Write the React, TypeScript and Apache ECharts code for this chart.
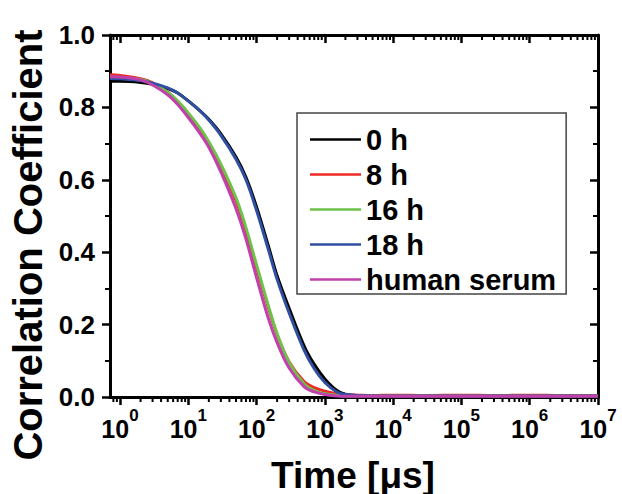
import React, { useEffect, useRef } from 'react';
import * as echarts from 'echarts';

// Lag time (µs) sampled along the log axis
const timeUs = [0.714, 1, 2, 3, 5, 7, 10, 15, 20, 30, 50, 70, 100, 150, 200, 300, 500, 700, 1000, 1500, 2000, 3000, 5000, 1e4, 3e4, 1e5, 3e5, 1e6, 3e6, 1e7];

const seriesNames = ['0 h', '8 h', '16 h', '18 h', 'human serum'];

const corr0h = [0.872, 0.872, 0.869, 0.864, 0.852, 0.84, 0.818, 0.79, 0.767, 0.727, 0.663, 0.607, 0.525, 0.415, 0.335, 0.245, 0.14, 0.09, 0.05, 0.018, 0.008, 0.004, 0.003, 0.003, 0.003, 0.003, 0.003, 0.003, 0.003, 0.003];
const corr8h = [0.89, 0.888, 0.879, 0.868, 0.842, 0.816, 0.782, 0.738, 0.7, 0.637, 0.542, 0.46, 0.357, 0.245, 0.172, 0.097, 0.042, 0.026, 0.016, 0.009, 0.006, 0.005, 0.004, 0.005, 0.004, 0.005, 0.004, 0.005, 0.004, 0.004];
const corr16h = [0.884, 0.883, 0.877, 0.866, 0.842, 0.818, 0.785, 0.742, 0.705, 0.643, 0.55, 0.468, 0.365, 0.25, 0.175, 0.095, 0.036, 0.018, 0.009, 0.005, 0.003, 0.003, 0.003, 0.003, 0.003, 0.003, 0.003, 0.003, 0.003, 0.003];
const corr18h = [0.88, 0.879, 0.874, 0.867, 0.854, 0.84, 0.818, 0.79, 0.765, 0.723, 0.657, 0.6, 0.515, 0.405, 0.325, 0.232, 0.128, 0.078, 0.04, 0.014, 0.007, 0.004, 0.003, 0.003, 0.003, 0.003, 0.003, 0.003, 0.003, 0.003];
const corrSerum = [0.885, 0.884, 0.876, 0.862, 0.835, 0.808, 0.772, 0.727, 0.69, 0.622, 0.52, 0.436, 0.33, 0.215, 0.15, 0.08, 0.028, 0.014, 0.007, 0.003, 0.002, 0.002, 0.002, 0.002, 0.002, 0.002, 0.002, 0.002, 0.002, 0.002];

const seriesValues = [corr0h, corr8h, corr16h, corr18h, corrSerum];
const colors = ['#000000', '#ee2a24', '#6cc24a', '#2f4fa2', '#c23fae'];

const xMin = 0.714;
const xMax = 1e7;
const yTickLabels = ['0.0', '0.2', '0.4', '0.6', '0.8', '1.0'];

const FONT = "'Liberation Sans', Arial, Helvetica, sans-serif";

// minor log ticks (2..9 in each decade)
const minorLogTicks: number[][] = [];
for (let n = -1; n <= 6; n++) {
  for (let k = 2; k <= 9; k++) {
    const v = k * Math.pow(10, n);
    if (v >= xMin && v <= xMax) minorLogTicks.push([v, 0]);
  }
}

export default function App() {
  const ref = useRef<HTMLDivElement>(null);
  useEffect(() => {
    const chart = echarts.init(ref.current!, null, { renderer: 'svg' });
    const axisLineStyle = { color: '#000', width: 3 };
    const xCommon = {
      type: 'log',
      logBase: 10,
      min: xMin,
      max: xMax,
      splitNumber: 7,
      splitLine: { show: false },
      axisLine: { show: true, onZero: false, lineStyle: axisLineStyle },
    };
    const option: any = {
      animation: false,
      backgroundColor: '#fff',
      grid: { left: 110, right: 24, top: 35, bottom: 97, containLabel: false },
      legend: {
        data: seriesNames.map((name) => ({ name, icon: 'rect' })),
        orient: 'vertical',
        left: 297,
        top: 113,
        padding: [12, 10, 0, 13],
        itemGap: 6,
        itemWidth: 51,
        itemHeight: 2.5,
        borderColor: '#444',
        borderWidth: 1.5,
        backgroundColor: '#fff',
        textStyle: { fontSize: 29, fontWeight: 'bold', color: '#000', fontFamily: FONT, lineHeight: 29 },
      },
      xAxis: [
        {
          ...xCommon,
          position: 'bottom',
          axisTick: { show: true, length: 8, lineStyle: { color: '#000', width: 2.5 } },
          axisLabel: {
            show: true,
            showMinLabel: false,
            margin: 10,
            formatter: (v: number) => `{b|10}{s|${Math.round(Math.log10(v))}}`,
            rich: {
              b: { fontSize: 25, fontWeight: 'bold', fontFamily: FONT, color: '#000', lineHeight: 34, verticalAlign: 'bottom' },
              s: { fontSize: 17, fontWeight: 'bold', fontFamily: FONT, color: '#000', lineHeight: 14, verticalAlign: 'top' },
            },
          },
        },
        {
          ...xCommon,
          position: 'top',
          axisTick: { show: true, inside: true, length: 8, lineStyle: { color: '#000', width: 2.5 } },
          axisLabel: { show: false },
        },
      ],
      yAxis: [
        {
          type: 'value',
          min: 0,
          max: 1,
          interval: 0.2,
          position: 'left',
          splitLine: { show: false },
          axisLine: { show: true, onZero: false, lineStyle: axisLineStyle },
          axisTick: { show: true, length: 8, lineStyle: { color: '#000', width: 2.5 } },
          minorTick: { show: true, splitNumber: 2, length: 5, lineStyle: { color: '#000', width: 2 } },
          axisLabel: {
            margin: 15,
            formatter: (v: number) => yTickLabels[Math.round(v * 5)],
            fontSize: 26,
            fontWeight: 'bold',
            fontFamily: FONT,
            color: '#000',
          },
        },
        {
          type: 'value',
          min: 0,
          max: 1,
          interval: 0.2,
          position: 'right',
          splitLine: { show: false },
          axisLine: { show: true, onZero: false, lineStyle: axisLineStyle },
          axisTick: { show: true, inside: true, length: 8, lineStyle: { color: '#000', width: 2.5 } },
          minorTick: { show: true, splitNumber: 2, length: 5, lineStyle: { color: '#000', width: 2 } },
          axisLabel: { show: false },
        },
      ],
      graphic: [
        {
          type: 'text',
          x: 28,
          y: 245,
          rotation: Math.PI / 2,
          style: {
            text: 'Correlation Coefficient',
            font: `bold 40px ${FONT}`,
            fill: '#000',
            textAlign: 'center',
            textVerticalAlign: 'middle',
          },
        },
        {
          type: 'text',
          x: 353,
          y: 475,
          style: {
            text: 'Time [μs]',
            font: `bold 37px ${FONT}`,
            fill: '#000',
            textAlign: 'center',
            textVerticalAlign: 'middle',
          },
        },
      ],
      series: [
        ...seriesNames.map((name, i) => ({
          name,
          type: 'line',
          xAxisIndex: 0,
          yAxisIndex: 0,
          data: timeUs.map((t, j) => [t, seriesValues[i][j]]),
          smooth: 0.35,
          symbol: 'none',
          showSymbol: false,
          color: colors[i],
          lineStyle: { color: colors[i], width: 3 },
          z: 3,
        })),
        {
          type: 'custom',
          name: 'minorTicks',
          xAxisIndex: 0,
          yAxisIndex: 0,
          clip: false,
          silent: true,
          data: minorLogTicks,
          renderItem: (params: any, api: any) => {
            const t = api.value(0);
            const b = api.coord([t, 0]);
            const tp = api.coord([t, 1]);
            return {
              type: 'group',
              children: [
                { type: 'line', shape: { x1: b[0], y1: b[1], x2: b[0], y2: b[1] + 5 }, style: { stroke: '#000', lineWidth: 2 } },
                { type: 'line', shape: { x1: tp[0], y1: tp[1], x2: tp[0], y2: tp[1] + 5 }, style: { stroke: '#000', lineWidth: 2 } },
              ],
            };
          },
        },
      ],
    };
    chart.setOption(option);
    return () => chart.dispose();
  }, []);
  return (
    <div
      ref={ref}
      style={{ position: 'absolute', left: 0, top: 0, width: 622, height: 494, background: '#fff' }}
    />
  );
}
